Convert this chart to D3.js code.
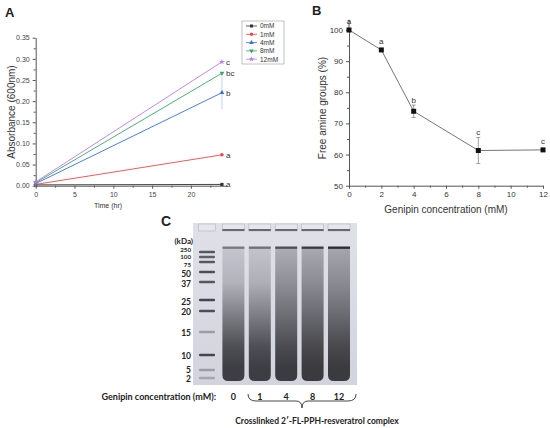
<!DOCTYPE html>
<html>
<head>
<meta charset="utf-8">
<script src="https://cdn.jsdelivr.net/npm/d3@7"></script>
<style>
  body { margin: 0; background: #fff; }
  text { font-family: "Liberation Sans", Arial, sans-serif; }
  .gel text { font-family: Lato, "Open Sans", sans-serif; font-weight: bold; }
</style>
</head>
<body>
<div id="fig"></div>
<script>
// ---- panel A data: absorbance over time
var seriesNames = ["0mM", "1mM", "4mM", "8mM", "12mM"];
var seriesColors = ["#333333", "#e8474b", "#3a6fd0", "#3aa56b", "#b67ee0"];
var timeHours = [0, 24];
var absStart = [0.002, 0.003, 0.005, 0.007, 0.009];
var absEnd = [0.003, 0.073, 0.220, 0.266, 0.293];
var absErr = [0, 0, 0.039, 0, 0];
var absLetters = ["a", "a", "b", "bc", "c"];

// ---- panel B data: free amine groups
var genipinConc = [0, 2, 4, 8, 12];
var freeAmine = [100, 93.6, 73.9, 61.3, 61.5];
var freeAmineErr = [0, 0, 2, 4.2, 0];
var amineLetters = ["a", "a", "b", "c", "c"];

// ---- panel C data: gel
var ladderKda = [250, 100, 75, 50, 37, 25, 20, 15, 10, 5, 2];
var ladderShade = [0.75, 0.7, 0.75, 0.8, 0.75, 0.85, 0.8, 0.35, 0.85, 0.35, 0.3];
var laneLabels = ["0", "1", "4", "8", "12"];
var topBandShade = [0.55, 0.6, 0.8, 0.92, 1.0];
// smear darkness down each lane (top, ~25 kDa, ~15 kDa, ~10 kDa, bottom)
var smearTop = [0.12, 0.13, 0.26, 0.28, 0.30];
var smear25 = [0.22, 0.24, 0.42, 0.44, 0.45];
var smear15 = [0.58, 0.58, 0.66, 0.68, 0.68];
var smear10 = [0.80, 0.80, 0.82, 0.84, 0.84];
var smearEnd = [0.90, 0.90, 0.91, 0.92, 0.92];

var svg = d3.select("#fig").append("svg")
    .attr("width", 550)
    .attr("height", 428);

svg.append("rect").attr("width", 550).attr("height", 428).attr("fill", "#fff");

var axisCol = "#555";

// ================= Panel A =================
var xA = d3.scaleLinear().domain([0, 24.6]).range([35.7, 226.6]);
var yA = d3.scaleLinear().domain([0, 0.35]).range([185.7, 37.7]);
var gA = svg.append("g");

gA.append("text").attr("x", 5).attr("y", 17).text("A")
    .attr("font-size", 13).attr("font-weight", "bold").attr("fill", "#222");

var axA_x = gA.append("g").attr("transform", "translate(0,185.7)")
    .call(d3.axisBottom(xA).tickValues([0, 5, 10, 15, 20]).tickSize(3).tickSizeOuter(0).tickFormat(d3.format("d")));
gA.append("g").attr("transform", "translate(0,185.7)")
    .call(d3.axisBottom(xA).tickValues(d3.range(2.5, 24, 5)).tickSize(2).tickFormat(""))
    .select(".domain").remove();
var axA_y = gA.append("g").attr("transform", "translate(35.7,0)")
    .call(d3.axisLeft(yA).tickValues(d3.range(0, 0.351, 0.05)).tickSize(3).tickSizeOuter(0).tickFormat(d3.format(".2f")));
gA.append("g").attr("transform", "translate(35.7,0)")
    .call(d3.axisLeft(yA).tickValues(d3.range(0.025, 0.35, 0.05)).tickSize(2).tickFormat(""))
    .select(".domain").remove();
[axA_x, axA_y].forEach(function (a) {
    a.selectAll("text").attr("font-size", 7).attr("fill", "#444");
});
gA.selectAll(".domain, .tick line").attr("stroke", axisCol);

gA.append("text").attr("transform", "translate(15,112) rotate(-90)")
    .attr("text-anchor", "middle").attr("font-size", 10).attr("fill", "#333")
    .text("Absorbance (600nm)");
gA.append("text").attr("x", 108).attr("y", 208).attr("text-anchor", "middle")
    .attr("font-size", 7).attr("fill", "#333").text("Time (hr)");

var symTypes = [d3.symbolSquare, d3.symbolCircle, d3.symbolTriangle, d3.symbolTriangle, d3.symbolStar];
function marker(sel, i, size) {
    sel.append("path")
        .attr("d", d3.symbol().type(symTypes[i]).size(size))
        .attr("fill", seriesColors[i])
        .attr("transform", i === 3 ? "rotate(180)" : null);
}

seriesNames.forEach(function (name, i) {
    var pts = [[timeHours[0], absStart[i]], [timeHours[1], absEnd[i]]];
    if (absErr[i] > 0) {
        gA.append("line")
            .attr("x1", xA(24)).attr("x2", xA(24))
            .attr("y1", yA(absEnd[i] - absErr[i])).attr("y2", yA(absEnd[i] + absErr[i]))
            .attr("stroke", seriesColors[i]).attr("stroke-width", 0.6).attr("opacity", 0.5);
    }
    gA.append("path").datum(pts)
        .attr("d", d3.line().x(function (d) { return xA(d[0]); }).y(function (d) { return yA(d[1]); }))
        .attr("fill", "none").attr("stroke", seriesColors[i]).attr("stroke-width", 0.9);
    pts.forEach(function (p) {
        var g = gA.append("g").attr("transform", "translate(" + xA(p[0]) + "," + yA(p[1]) + ")");
        marker(g, i, 10);
    });
    gA.append("text").attr("x", xA(24) + 4).attr("y", yA(absEnd[i]) + 3)
        .attr("font-size", 8).attr("fill", "#333").text(absLetters[i]);
});

// legend
var leg = gA.append("g").attr("transform", "translate(242,21)");
leg.append("rect").attr("width", 42).attr("height", 43)
    .attr("fill", "#fff").attr("stroke", "#999").attr("stroke-width", 0.6);
seriesNames.forEach(function (name, i) {
    var ly = 5 + i * 8.3;
    leg.append("line").attr("x1", 4).attr("x2", 15).attr("y1", ly).attr("y2", ly)
        .attr("stroke", seriesColors[i]).attr("stroke-width", 0.8);
    var g = leg.append("g").attr("transform", "translate(9.5," + ly + ")");
    marker(g, i, 9);
    leg.append("text").attr("x", 18).attr("y", ly + 2.4).attr("font-size", 6.5)
        .attr("fill", "#333").text(name);
});

// ================= Panel B =================
var xB = d3.scaleLinear().domain([0, 12]).range([349, 543]);
var yB = d3.scaleLinear().domain([50, 100]).range([185.7, 30]);
var gB = svg.append("g");

gB.append("text").attr("x", 312).attr("y", 15).text("B")
    .attr("font-size", 13).attr("font-weight", "bold").attr("fill", "#222");

var axB_x = gB.append("g").attr("transform", "translate(0,185.7)")
    .call(d3.axisBottom(xB).tickValues([0, 2, 4, 6, 8, 10, 12]).tickSize(3).tickSizeOuter(0));
gB.append("g").attr("transform", "translate(0,185.7)")
    .call(d3.axisBottom(xB).tickValues([1, 3, 5, 7, 9, 11]).tickSize(2).tickFormat(""))
    .select(".domain").remove();
var axB_y = gB.append("g").attr("transform", "translate(349,0)")
    .call(d3.axisLeft(yB).tickValues([50, 60, 70, 80, 90, 100]).tickSize(3).tickSizeOuter(0));
gB.append("g").attr("transform", "translate(349,0)")
    .call(d3.axisLeft(yB).tickValues([55, 65, 75, 85, 95]).tickSize(2).tickFormat(""))
    .select(".domain").remove();
// y axis runs a little above 100
gB.append("line").attr("x1", 349).attr("x2", 349).attr("y1", yB(100)).attr("y2", yB(103.3))
    .attr("stroke", axisCol);
[axB_x, axB_y].forEach(function (a) {
    a.selectAll("text").attr("font-size", 8).attr("fill", "#333");
});
gB.selectAll(".domain, .tick line").attr("stroke", axisCol);

gB.append("text").attr("transform", "translate(326,108) rotate(-90)")
    .attr("text-anchor", "middle").attr("font-size", 10).attr("fill", "#333")
    .text("Free amine groups (%)");
gB.append("text").attr("x", 446).attr("y", 213).attr("text-anchor", "middle")
    .attr("font-size", 10).attr("fill", "#333").text("Genipin concentration (mM)");

genipinConc.forEach(function (c, i) {
    if (freeAmineErr[i] > 0) {
        var e = freeAmineErr[i];
        gB.append("path")
            .attr("d", "M" + xB(c) + "," + yB(freeAmine[i] - e) + "V" + yB(freeAmine[i] + e) +
                "M" + (xB(c) - 2) + "," + yB(freeAmine[i] - e) + "h4" +
                "M" + (xB(c) - 2) + "," + yB(freeAmine[i] + e) + "h4")
            .attr("stroke", "#777").attr("stroke-width", 0.7).attr("fill", "none");
    }
});
gB.append("path").datum(genipinConc.map(function (c, i) { return [c, freeAmine[i]]; }))
    .attr("d", d3.line().x(function (d) { return xB(d[0]); }).y(function (d) { return yB(d[1]); }))
    .attr("fill", "none").attr("stroke", "#666").attr("stroke-width", 0.9);
gB.selectAll("rect.pt").data(genipinConc).enter().append("rect")
    .attr("class", "pt")
    .attr("x", function (d) { return xB(d) - 2.5; })
    .attr("y", function (d, i) { return yB(freeAmine[i]) - 2.5; })
    .attr("width", 5).attr("height", 5).attr("fill", "#111");
gB.selectAll("text.lt").data(genipinConc).enter().append("text")
    .attr("class", "lt")
    .attr("x", function (d) { return xB(d); })
    .attr("y", function (d, i) {
        return freeAmineErr[i] > 0 ? yB(freeAmine[i] + freeAmineErr[i]) - 2.5 : yB(freeAmine[i]) - 6;
    })
    .attr("text-anchor", "middle").attr("font-size", 8).attr("fill", "#333")
    .text(function (d, i) { return amineLetters[i]; });

// ================= Panel C (gel) =================
var gC = svg.append("g").attr("class", "gel");
gC.append("text").attr("x", 161).attr("y", 226).text("C")
    .attr("font-size", 14).attr("fill", "#222").style("font-family", "Liberation Sans, Arial");

var gelX0 = 193, gelX1 = 357, gelY0 = 223, gelY1 = 385;
var shade = d3.interpolateRgb("#d8d9e2", "#2c2c31");

var defs = svg.append("defs");
var bgGrad = defs.append("linearGradient").attr("id", "gelbg").attr("x1", 0).attr("x2", 0).attr("y1", 0).attr("y2", 1);
bgGrad.append("stop").attr("offset", 0).attr("stop-color", "#e0e1e8");
bgGrad.append("stop").attr("offset", 1).attr("stop-color", "#d2d3dd");

gC.append("rect").attr("x", gelX0).attr("y", gelY0)
    .attr("width", gelX1 - gelX0).attr("height", gelY1 - gelY0)
    .attr("fill", "url(#gelbg)");

// kDa -> band position on the gel, and -> label baseline
var migY = d3.scaleLinear()
    .domain([250, 100, 75, 50, 37, 25, 20, 15, 10, 5, 2])
    .range([252, 257, 262, 272, 282, 300, 311, 332, 355, 370, 378]);
var labelY = d3.scaleLinear()
    .domain([250, 100, 75, 50, 37, 25, 20, 15, 10, 5, 2])
    .range([251.8, 259.2, 266.6, 276.5, 286.5, 305, 315, 336, 359, 373, 382]);

var laneX = d3.scalePoint().domain(["ladder"].concat(laneLabels)).range([207, 339]);
var laneW = 22;

// wells
laneX.domain().forEach(function (k) {
    var cx = laneX(k);
    var w = k === "ladder" ? 17 : laneW;
    gC.append("rect").attr("x", cx - w / 2).attr("y", 224).attr("width", w).attr("height", 7)
        .attr("fill", "#e6e7ee").attr("stroke", "#b4b5bd").attr("stroke-width", 0.6);
    if (k !== "ladder") {
        gC.append("rect").attr("x", cx - w / 2).attr("y", 229).attr("width", w).attr("height", 2)
            .attr("fill", shade(0.65));
    }
});

// ladder bands + labels
ladderKda.forEach(function (k, i) {
    gC.append("rect").attr("x", laneX("ladder") - 8).attr("y", migY(k) - 1.2)
        .attr("width", 16).attr("height", 2.4).attr("rx", 1)
        .attr("fill", shade(ladderShade[i]));
    gC.append("text").attr("x", 191).attr("y", labelY(k))
        .attr("text-anchor", "end").attr("font-size", i < 3 ? 6.2 : 8.5).attr("fill", "#222")
        .text(k);
});
gC.append("text").attr("x", 193).attr("y", 244).attr("text-anchor", "end")
    .attr("font-size", 8).attr("fill", "#222").text("(kDa)");

// sample lanes: smear + high-MW band
laneLabels.forEach(function (lab, i) {
    var cx = laneX(lab), x0 = cx - laneW / 2, x1 = cx + laneW / 2;
    var gid = "smear" + i;
    var gr = defs.append("linearGradient").attr("id", gid)
        .attr("x1", 0).attr("x2", 0).attr("y1", 0).attr("y2", 1);
    var stops = [[0, smearTop[i]], [0.25, smear25[i]], [0.55, smear15[i]], [0.74, smear10[i]], [0.9, smearEnd[i]], [1, smearEnd[i]]];
    stops.forEach(function (s) {
        gr.append("stop").attr("offset", s[0]).attr("stop-color", shade(s[1]));
    });
    var yT = 249, yE = 381, r = 6;
    gC.append("path")
        .attr("d", "M" + x0 + "," + yT + "L" + x1 + "," + yT + "L" + x1 + "," + (yE - r) +
            "Q" + x1 + "," + yE + " " + (x1 - r) + "," + yE + "L" + (x0 + r) + "," + yE +
            "Q" + x0 + "," + yE + " " + x0 + "," + (yE - r) + "Z")
        .attr("fill", "url(#" + gid + ")");
    gC.append("rect").attr("x", x0).attr("y", 246.5).attr("width", laneW).attr("height", 2.4)
        .attr("fill", shade(topBandShade[i]));
    gC.append("text").attr("x", cx).attr("y", 400).attr("text-anchor", "middle")
        .attr("font-size", 9).attr("fill", "#222").text(lab);
});

gC.append("text").attr("x", 216).attr("y", 400).attr("text-anchor", "end")
    .attr("font-size", 9).attr("fill", "#222").text("Genipin concentration (mM):");

// curly brace under the crosslinked lanes
var bx0 = 248, bx1 = 356, bmid = 302, by0 = 394, by1 = 408;
gC.append("path")
    .attr("d", "M" + bx0 + "," + by0 + " Q" + bx0 + "," + (by0 + 7) + " " + (bx0 + 8) + "," + (by0 + 7) +
        " L" + (bmid - 6) + "," + (by0 + 7) + " Q" + bmid + "," + (by0 + 7) + " " + bmid + "," + by1 +
        " Q" + bmid + "," + (by0 + 7) + " " + (bmid + 6) + "," + (by0 + 7) +
        " L" + (bx1 - 8) + "," + (by0 + 7) + " Q" + bx1 + "," + (by0 + 7) + " " + bx1 + "," + by0)
    .attr("fill", "none").attr("stroke", "#333").attr("stroke-width", 0.9);

gC.append("text").attr("x", 317).attr("y", 424).attr("text-anchor", "middle")
    .attr("font-size", 8.5).attr("fill", "#222").text("Crosslinked 2\u2032-FL-PPH-resveratrol complex");
</script>
</body>
</html>
